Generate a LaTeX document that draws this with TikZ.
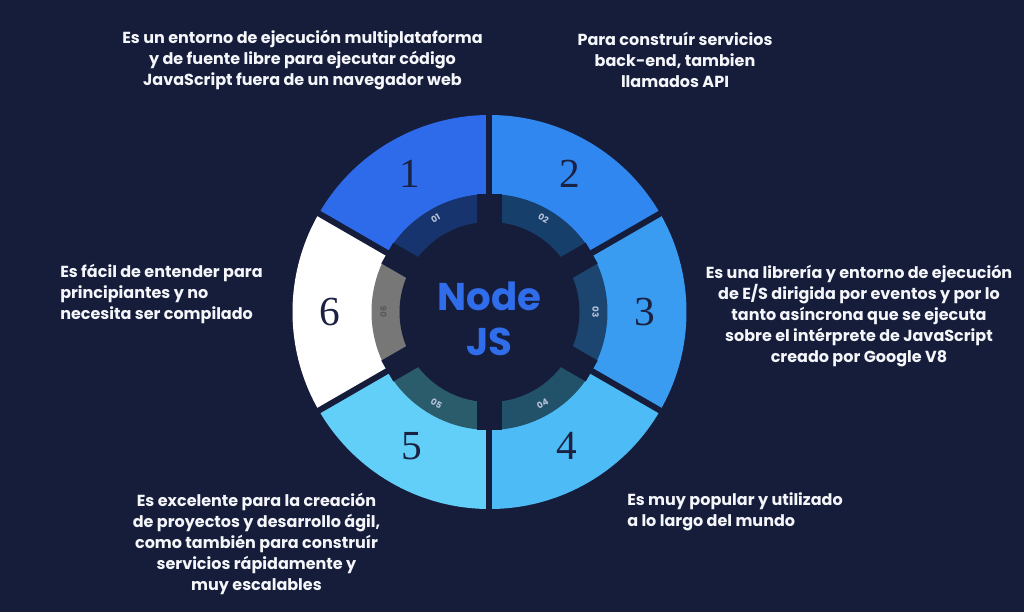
\documentclass[tikz,border=0pt]{standalone}
\usepackage{fontspec}
\setmainfont{Poppins}
\newfontfamily\numfont{Liberation Serif}
\usepackage{xcolor}
\usepackage{tikz}
\usetikzlibrary{positioning}
\definecolor{bgNavy}{HTML}{161D3B}
\definecolor{inkW}{HTML}{F4F6FA}
\definecolor{inkD}{HTML}{1B2140}
\definecolor{segA}{HTML}{2E6BEA}
\definecolor{segB}{HTML}{2F87EF}
\definecolor{segC}{HTML}{3A9CF1}
\definecolor{segD}{HTML}{4DBBF6}
\definecolor{segE}{HTML}{62CFF8}
\definecolor{segF}{HTML}{FFFFFF}
\definecolor{bandA}{HTML}{18346F}
\definecolor{bandB}{HTML}{173F6B}
\definecolor{bandC}{HTML}{1C4670}
\definecolor{bandD}{HTML}{22526A}
\definecolor{bandE}{HTML}{2A5C6C}
\definecolor{bandF}{HTML}{777777}
\definecolor{bandInk}{HTML}{B4C2DA}
\definecolor{jsBlue}{HTML}{2F6DEB}

\begin{document}
\begin{tikzpicture}[x=0.75pt, y=0.75pt,
  digit/.style={font=\numfont\fontsize{31}{31}\selectfont, text=inkD, inner sep=0pt},
  bandlbl/.style={font=\bfseries\fontsize{6.5}{6.5}\selectfont, text=bandInk, inner sep=0pt},
  desc/.style={font=\bfseries\fontsize{12}{15.6}\selectfont, text=inkW, align=center, inner sep=0pt},
  gapwide/.style={bgNavy, line width=18pt},
  gapthin/.style={bgNavy, line width=4.5pt}]
\useasboundingbox (-489.5,-300) rectangle (534.5,312);
\fill[bgNavy] (-489.5,-300) rectangle (534.5,312);
% outer segments
\fill[segA] (0,0) -- (90:197) arc[start angle=90, end angle=150, radius=197] -- cycle;
\fill[segB] (0,0) -- (30:197) arc[start angle=30, end angle=90, radius=197] -- cycle;
\fill[segC] (0,0) -- (-30:197) arc[start angle=-30, end angle=30, radius=197] -- cycle;
\fill[segD] (0,0) -- (-90:197) arc[start angle=-90, end angle=-30, radius=197] -- cycle;
\fill[segE] (0,0) -- (-150:197) arc[start angle=-150, end angle=-90, radius=197] -- cycle;
\fill[segF] (0,0) -- (150:197) arc[start angle=150, end angle=210, radius=197] -- cycle;
% inner band
\fill[bandA] (0,0) -- (90:118) arc[start angle=90, end angle=150, radius=118] -- cycle;
\fill[bandB] (0,0) -- (30:118) arc[start angle=30, end angle=90, radius=118] -- cycle;
\fill[bandC] (0,0) -- (-30:118) arc[start angle=-30, end angle=30, radius=118] -- cycle;
\fill[bandD] (0,0) -- (-90:118) arc[start angle=-90, end angle=-30, radius=118] -- cycle;
\fill[bandE] (0,0) -- (-150:118) arc[start angle=-150, end angle=-90, radius=118] -- cycle;
\fill[bandF] (0,0) -- (150:118) arc[start angle=150, end angle=210, radius=118] -- cycle;
% gaps
\draw[gapwide] (0,0) -- (90:118);  \draw[gapwide] (0,0) -- (30:118);
\draw[gapwide] (0,0) -- (-30:118); \draw[gapwide] (0,0) -- (-90:118);
\draw[gapwide] (0,0) -- (-150:118); \draw[gapwide] (0,0) -- (150:118);
\draw[gapthin] (0,0) -- (90:200);  \draw[gapthin] (0,0) -- (30:200);
\draw[gapthin] (0,0) -- (-30:200); \draw[gapthin] (0,0) -- (-90:200);
\draw[gapthin] (0,0) -- (-150:200); \draw[gapthin] (0,0) -- (150:200);
\fill[bgNavy] (0,0) circle (90);
% numbers
\node[digit] (n1) at (120:160) {1};
\node[digit] (n2) at (60:160) {2};
\node[digit] (n3) at (0:155) {3};
\node[digit] (n4) at (-60:155) {4};
\node[digit] (n5) at (-120:155) {5};
\node[digit] (n6) at (180:160) {6};
\node[bandlbl, rotate=30] (b1) at (120:108) {01};
\node[bandlbl, rotate=-30] (b2) at (60:108) {02};
\node[bandlbl, rotate=-90] (b3) at (0:106) {03};
\node[bandlbl, rotate=30] (b4) at (-60:106) {04};
\node[bandlbl, rotate=-30] (b5) at (-120:106) {05};
\node[bandlbl, rotate=90, text=black!65] (b6) at (180:106) {06};
\node[font=\bfseries\fontsize{29}{34}\selectfont, text=jsBlue, align=center] (nodejs) at (0,-7) {Node\\JS};
% descriptions
\node[desc] (d1) at (-187,252) {Es un entorno de ejecución multiplataforma\\y de fuente libre para ejecutar código\\JavaScript fuera de un navegador web};
\node[desc] (d2) at (185.5,252) {Para construír servicios\\back-end, tambien\\llamados API};
\node[desc] (d3) at (369.5,-4) {Es una librería y entorno de ejecución\\de E/S dirigida por eventos y por lo\\tanto asíncrona que se ejecuta\\sobre el intérprete de JavaScript\\creado por Google V8};
\node[desc, align=left, anchor=west] (d6) at (-429.5,18) {Es fácil de entender para\\principiantes y no\\necesita ser compilado};
\node[desc] (d5) at (-233,-232) {Es excelente para la creación\\de proyectos y desarrollo ágil,\\como también para construír\\servicios rápidamente y\\muy escalables};
\node[desc, align=left, anchor=west] (d4) at (137.5,-200) {Es muy popular y utilizado\\a lo largo del mundo};
\end{tikzpicture}
\end{document}
